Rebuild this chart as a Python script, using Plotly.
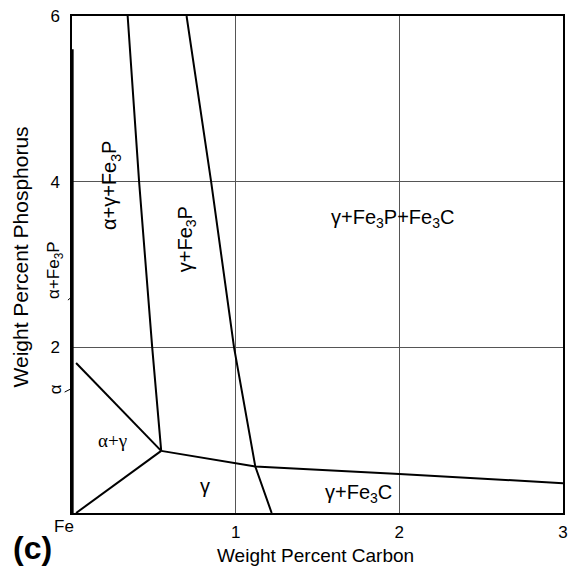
import plotly.graph_objects as go

# Phase boundaries (wt% C, wt% P)
left_x = [0.004, 0.004]
left_y = [0.0, 5.6]
agf_x = [0.34, 0.41, 0.49, 0.545]
agf_y = [6.0, 4.0, 2.0, 0.75]
gf_x = [0.70, 0.85, 0.99, 1.12, 1.22]
gf_y = [6.0, 4.0, 2.0, 0.56, 0.0]
low_x = [0.545, 1.0, 1.12, 2.0, 3.0]
low_y = [0.75, 0.60, 0.56, 0.47, 0.36]
bl_x = [0.025, 0.545]
bl_y = [0.0, 0.75]
ul_x = [0.025, 0.545]
ul_y = [1.81, 0.75]

x_ticks = [1, 2, 3]
x_ticklabels = ["1", "2", "3"]
y_ticks = [2, 4, 6]
y_ticklabels = ["2", "4", "6"]
origin_label = "Fe"

FONT = "Liberation Sans, Arial, sans-serif"
SERIF = "Liberation Serif, Times New Roman, serif"

fig = go.Figure()
for xs, ys in [(left_x, left_y), (agf_x, agf_y), (gf_x, gf_y), (low_x, low_y), (bl_x, bl_y), (ul_x, ul_y)]:
    fig.add_trace(go.Scatter(x=xs, y=ys, mode="lines", line=dict(color="black", width=2),
                             showlegend=False, hoverinfo="skip"))

# region labels inside the plot (data coords)
labels = [
    (0.24, 3.95, "α+γ+Fe<sub>3</sub>P", -90, 20, FONT),
    (0.70, 3.30, "γ+Fe<sub>3</sub>P", -90, 20, FONT),
    (1.96, 3.56, "γ+Fe<sub>3</sub>P+Fe<sub>3</sub>C", 0, 20, FONT),
    (0.25, 0.87, "α+γ", 0, 19, SERIF),
    (0.81, 0.33, "γ", 0, 20, FONT),
    (1.75, 0.23, "γ+Fe<sub>3</sub>C", 0, 20, FONT),
]
for x, y, t, ang, sz, fam in labels:
    fig.add_annotation(x=x, y=y, text=t, showarrow=False, textangle=ang,
                       xanchor="center", yanchor="middle",
                       font=dict(family=fam, size=sz, color="black"))

# labels left of the axis (data values converted to paper coords)
out_labels = [(-0.1, 2.93, "α+Fe<sub>3</sub>P", 17), (-0.1, 1.49, "α", 17)]
for x, y, t, sz in out_labels:
    fig.add_annotation(xref="paper", yref="paper", x=x / 3, y=y / 6, text=t, showarrow=False,
                       xanchor="center", yanchor="middle",
                       textangle=-90, font=dict(family=FONT, size=sz, color="black"))

leaders = [((-0.025, 2.57), (0.005, 2.62)), ((-0.045, 1.46), (0.005, 1.51))]
for (x0, y0), (x1, y1) in leaders:
    fig.add_shape(type="line", xref="paper", yref="paper",
                  x0=x0 / 3, y0=y0 / 6, x1=x1 / 3, y1=y1 / 6,
                  line=dict(color="black", width=1))

# "Fe" at origin
fig.add_annotation(x=0, y=0, text=origin_label, showarrow=False, xshift=-8, yshift=-13,
                   xanchor="center", yanchor="middle",
                   font=dict(family=FONT, size=17, color="black"))

# axis titles
fig.add_annotation(xref="paper", yref="paper", x=0.496, y=-0.0865, text="Weight Percent Carbon",
                   xanchor="center", yanchor="middle",
                   showarrow=False, font=dict(family=FONT, size=19, color="black"))
fig.add_annotation(xref="paper", yref="paper", x=-0.105, y=0.515, text="Weight Percent Phosphorus",
                   xanchor="center", yanchor="middle",
                   showarrow=False, textangle=-90, font=dict(family=FONT, size=21, color="black"))

fig.add_annotation(xref="paper", yref="paper", x=-0.081, y=-0.07, text="<b>(c)</b>",
                   xanchor="center", yanchor="middle",
                   showarrow=False, font=dict(family="Liberation Sans, Arial", size=32, color="black"))

fig.update_layout(
    width=572, height=571,
    margin=dict(l=72, r=4, t=16, b=58),
    plot_bgcolor="white", paper_bgcolor="white",
    font=dict(family=FONT, size=17, color="black"),
    xaxis=dict(range=[0, 3], tickvals=x_ticks, ticktext=x_ticklabels, showgrid=True,
               gridcolor="#555", gridwidth=1, showline=True, linecolor="black", linewidth=1.5,
               mirror=True, ticks="", zeroline=False, ticklabelstandoff=3),
    yaxis=dict(range=[0, 6], tickvals=y_ticks, ticktext=y_ticklabels, showgrid=True,
               gridcolor="#555", gridwidth=1, showline=True, linecolor="black", linewidth=1.5,
               mirror=True, ticks="", zeroline=False, ticklabelstandoff=7),
)

fig.write_html("out.html")
